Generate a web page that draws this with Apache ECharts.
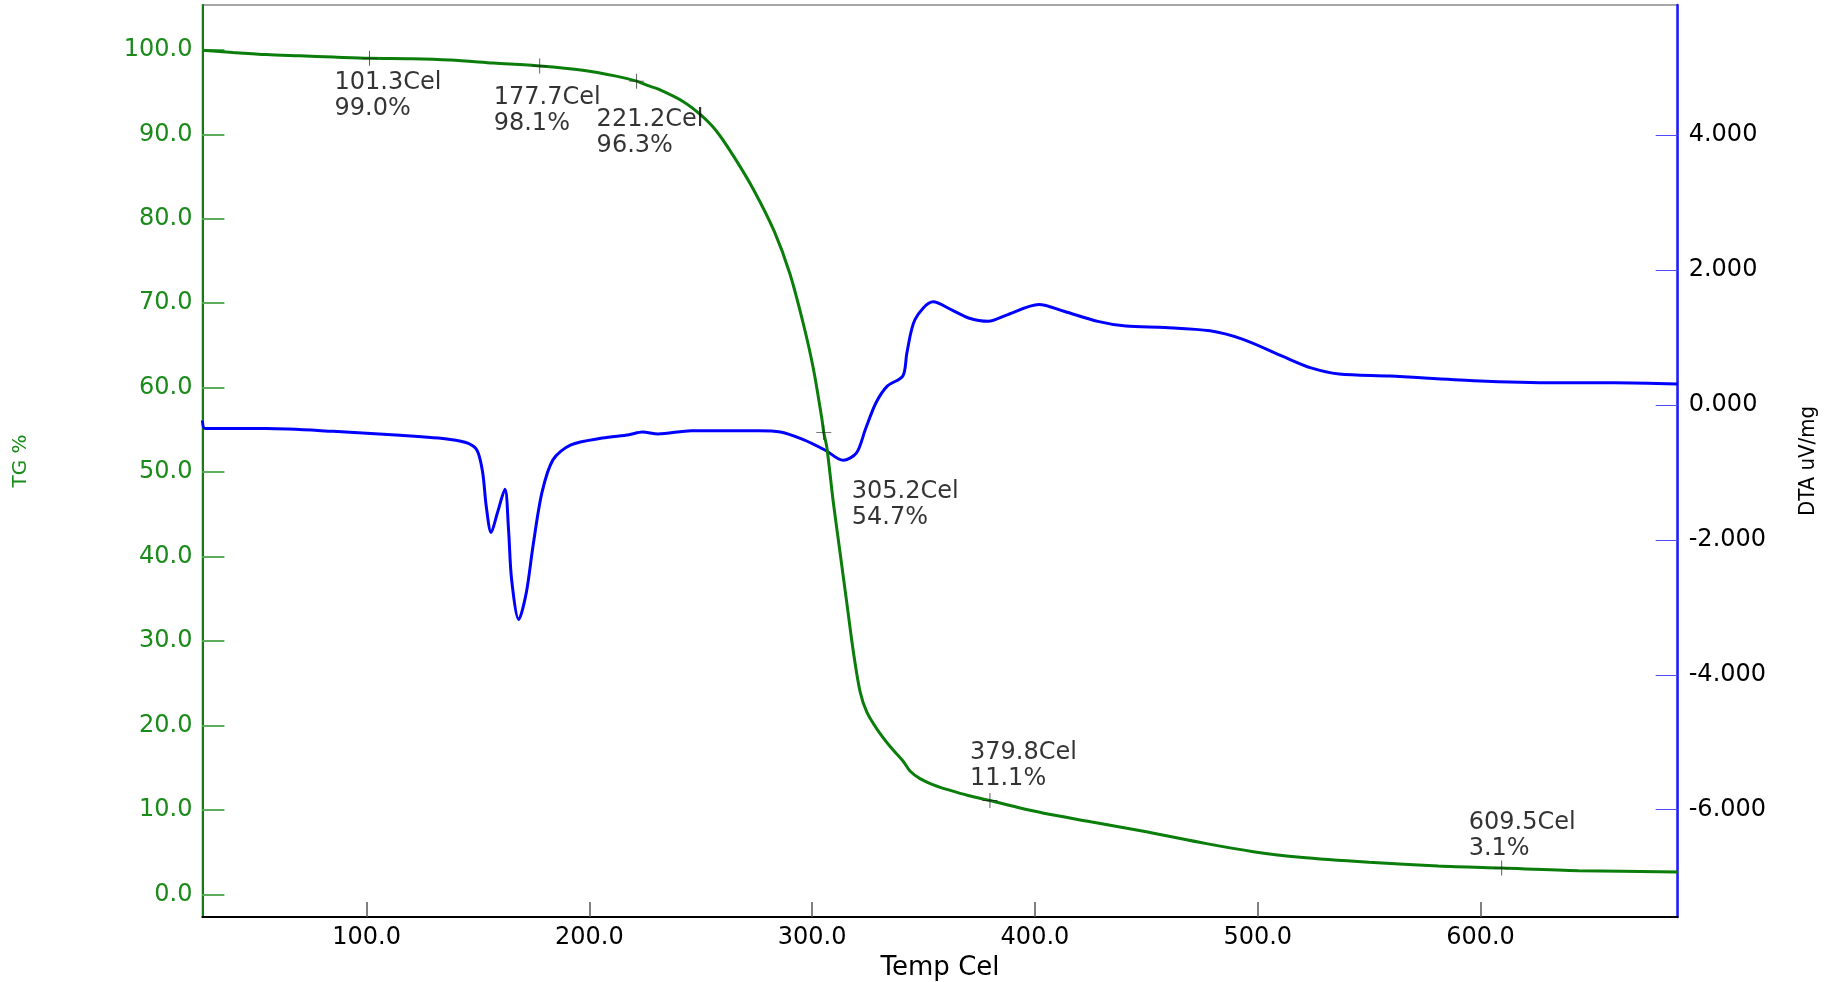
<!DOCTYPE html>
<html>
<head>
<meta charset="utf-8">
<script src="https://cdn.jsdelivr.net/npm/echarts@6/dist/echarts.min.js"></script>
<style>
html,body{margin:0;padding:0;background:#ffffff;}
#c{width:1847px;height:982px;}
</style>
</head>
<body>
<div id="c"></div>
<script>
// ---- data ----
const tgTemps  = [26.3, 40, 55, 70, 85, 101.3, 120, 137.5, 157, 177.7, 197, 212, 221.2, 226, 231, 242, 250, 257, 265, 274, 283, 290, 296, 300.5, 304.3, 305.2, 306.6, 309.5, 312.5, 315.5, 318.5, 321.5, 324.5, 329, 335, 341, 343.9, 348.4, 355, 362, 370, 379.8, 392, 404, 425, 450, 477, 498, 519, 550, 581, 609.5, 644, 688.5];
const tgValues = [99.95, 99.7, 99.45, 99.3, 99.15, 99.0, 98.95, 98.8, 98.45, 98.1, 97.6, 96.9, 96.3, 95.8, 95.35, 93.9, 92.3, 90.4, 87.3, 83.3, 78.5, 73.5, 67.6, 62.3, 56.4, 54.7, 52.9, 46.4, 40.5, 34.6, 28.7, 24.0, 21.6, 19.6, 17.5, 15.7, 14.6, 13.7, 12.9, 12.3, 11.7, 11.1, 10.3, 9.6, 8.6, 7.4, 6.0, 5.05, 4.38, 3.79, 3.35, 3.1, 2.8, 2.64];

const dtaTemps  = [26.3, 27.6, 55, 85, 115, 137.6, 145.7, 149.7, 152.1, 153.7, 155.9, 158.7, 162.1, 163.7, 165.1, 168.3, 171.7, 174.7, 178.7, 183.7, 191.7, 205.8, 217.8, 223.8, 230.8, 245.8, 275.8, 285.8, 295.8, 305.9, 313.9, 319.9, 323.9, 328.6, 333.7, 340.7, 342.5, 346.2, 354.3, 362.6, 370.2, 379, 387.8, 401.7, 413, 428.2, 440.8, 458.4, 478.6, 493.7, 511.3, 523.9, 536.5, 559.2, 597, 634.8, 660, 688.5];
const dtaValues = [-0.23, -0.35, -0.35, -0.39, -0.45, -0.51, -0.57, -0.68, -1.00, -1.50, -1.89, -1.60, -1.25, -1.84, -2.59, -3.18, -2.78, -2.09, -1.30, -0.81, -0.59, -0.49, -0.44, -0.40, -0.43, -0.38, -0.38, -0.40, -0.51, -0.67, -0.82, -0.71, -0.36, 0.03, 0.28, 0.43, 0.77, 1.27, 1.53, 1.41, 1.29, 1.24, 1.34, 1.49, 1.39, 1.24, 1.17, 1.15, 1.10, 0.97, 0.72, 0.55, 0.46, 0.43, 0.36, 0.33, 0.33, 0.31];

const markTemps = [101.3, 177.7, 221.2, 305.2, 379.8, 609.5];
const markTG    = [99.0, 98.1, 96.3, 54.7, 11.1, 3.1];

const xTicks   = [100, 200, 300, 400, 500, 600];
const tgTicks  = [0, 10, 20, 30, 40, 50, 60, 70, 80, 90, 100];
const dtaTicks = [-6, -4, -2, 0, 2, 4];

// ---- layout (label placement relative to marker, px) ----
const labelOffsets = [[-35, 11], [-46, 19], [-40, 26], [28, 46], [-20, -61], [-33, -58]];

const FONT = 'DejaVu Sans';
const chart = echarts.init(document.getElementById('c'), null, {renderer: 'canvas'});

const tgData  = tgTemps.map((t, i) => [t, tgValues[i]]);
const dtaData = dtaTemps.map((t, i) => [t, dtaValues[i]]);
const markData = markTemps.map((t, i) => ({
  value: [t, markTG[i]],
  label: {offset: labelOffsets[i]}
}));

const option = {
  animation: false,
  backgroundColor: '#ffffff',
  grid: {left: 202.4, right: 169.3, top: 5, bottom: 65, containLabel: false, outerBoundsMode: 'none',
         show: true, borderColor: '#8a8a8a', borderWidth: 1.5, backgroundColor: 'transparent'},
  xAxis: {
    type: 'value', min: 26.3, max: 688.5,
    name: 'Temp Cel', nameLocation: 'middle', nameGap: 35,
    nameTextStyle: {fontFamily: FONT, fontSize: 26, color: '#000000'},
    axisLine: {show: true, onZero: false, lineStyle: {color: '#000000', width: 2}},
    axisTick: {show: true, inside: true, length: 15, customValues: xTicks, lineStyle: {color: '#555555', width: 1.5}},
    axisLabel: {customValues: xTicks, formatter: v => Number(v).toFixed(1), fontFamily: FONT, fontSize: 24, color: '#000000', margin: 9},
    splitLine: {show: false}
  },
  yAxis: [
    {
      type: 'value', position: 'left', min: -2.69, max: 105.32,
      name: 'TG %', nameLocation: 'middle', nameGap: 172,
      nameTextStyle: {fontFamily: FONT, fontSize: 20, color: '#1a8a1a'},
      axisLine: {show: true, onZero: false, lineStyle: {color: '#157a15', width: 2}},
      axisTick: {show: true, inside: true, length: 22, customValues: tgTicks, lineStyle: {color: '#5cae5c', width: 2}},
      axisLabel: {customValues: tgTicks, formatter: v => Number(v).toFixed(1), fontFamily: FONT, fontSize: 24, color: '#1a8a1a', margin: 10, padding: [5, 0, 0, 0]},
      splitLine: {show: false}
    },
    {
      type: 'value', position: 'right', min: -7.59, max: 5.93,
      name: 'DTA uV/mg', nameLocation: 'middle', nameGap: 120,
      nameTextStyle: {fontFamily: "'Liberation Sans Narrow', 'DejaVu Sans Condensed', sans-serif", fontSize: 22, color: '#000000'},
      axisLine: {show: true, onZero: false, lineStyle: {color: '#1a1aff', width: 2.5}},
      axisTick: {show: true, inside: true, length: 22, customValues: dtaTicks, lineStyle: {color: '#4d4dff', width: 1}},
      axisLabel: {customValues: dtaTicks, formatter: v => Number(v).toFixed(3), fontFamily: FONT, fontSize: 24, color: '#000000', margin: 11, padding: [5, 0, 0, 0]},
      splitLine: {show: false}
    }
  ],
  series: [
    {
      name: 'DTA', type: 'line', yAxisIndex: 1, data: dtaData,
      showSymbol: false, smooth: 0.3,
      lineStyle: {color: '#0000ff', width: 3}, z: 2
    },
    {
      name: 'TG', type: 'line', yAxisIndex: 0, data: tgData,
      showSymbol: false, smooth: 0.3,
      lineStyle: {color: '#0a7d0a', width: 3}, z: 3
    },
    {
      name: 'marks', type: 'scatter', yAxisIndex: 0, data: markData,
      symbol: 'path://M-0.06,-1 L0.06,-1 L0.06,-0.06 L1,-0.06 L1,0.06 L0.06,0.06 L0.06,1 L-0.06,1 L-0.06,0.06 L-1,0.06 L-1,-0.06 L-0.06,-0.06 Z',
      symbolSize: 15,
      itemStyle: {color: '#222222'},
      z: 5,
      label: {
        show: true, position: 'inside', align: 'left', verticalAlign: 'top',
        fontFamily: FONT, fontSize: 24, lineHeight: 26, color: '#000000',
        formatter: p => markTemps[p.dataIndex].toFixed(1) + 'Cel\n' + markTG[p.dataIndex].toFixed(1) + '%'
      }
    }
  ]
};
chart.setOption(option);
</script>
</body>
</html>
